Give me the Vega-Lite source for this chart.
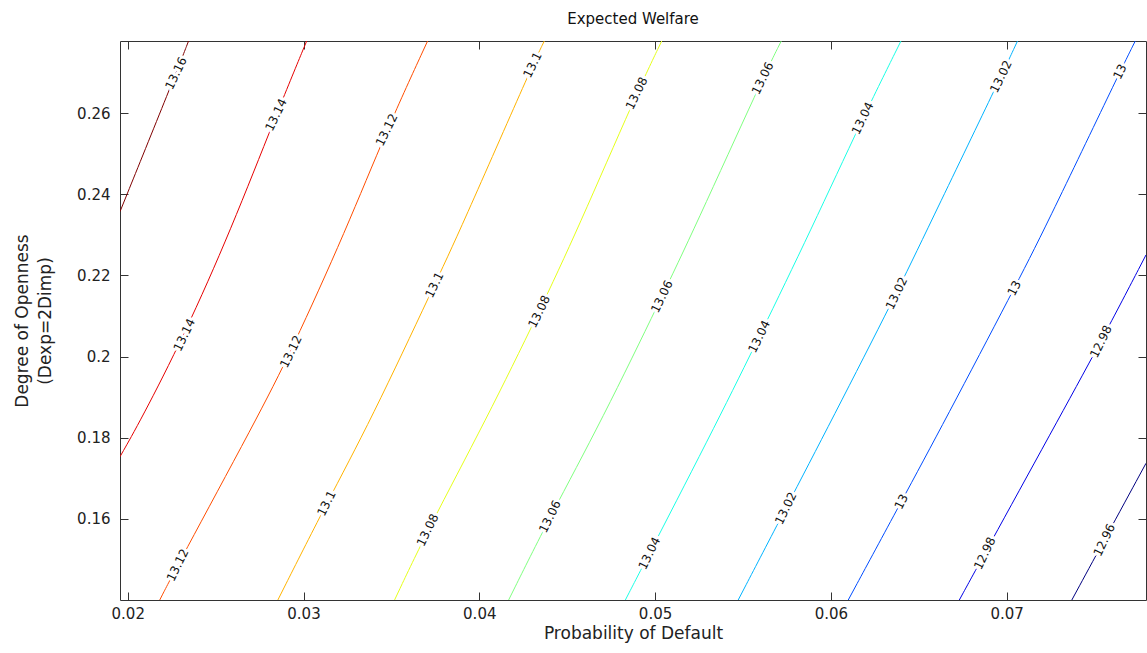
{
  "$schema": "https://vega.github.io/schema/vega-lite/v6.json",
  "width": 1026,
  "height": 559,
  "autosize": {"type": "none"},
  "padding": {"left": 120, "top": 41, "right": 1, "bottom": 53},
  "background": "white",
  "title": {"text": "Expected Welfare", "fontSize": 15, "fontWeight": "normal", "font": "DejaVu Sans", "color": "#111111", "offset": 14, "frame": "group", "anchor": "middle"},
  "config": {
    "view": {"stroke": "#333333", "strokeWidth": 1},
    "axis": {"grid": false, "domain": false, "tickColor": "#333333", "tickSize": -8, "labelFont": "DejaVu Sans", "labelFontSize": 15, "labelColor": "#222222", "titleFont": "DejaVu Sans", "titleFontSize": 17, "titleFontWeight": "normal", "titleColor": "#222222"}
  },
  "datasets": {
    "lines": [
      {"level": "13.16", "x": 0.01956, "y": 0.23574},
      {"level": "13.16", "x": 0.02275, "y": 0.26986},
      {"level": "13.16", "x": 0.02346, "y": 0.2778},
      {"level": "13.14", "x": 0.01956, "y": 0.17533},
      {"level": "13.14", "x": 0.02075, "y": 0.18438},
      {"level": "13.14", "x": 0.02322, "y": 0.20534},
      {"level": "13.14", "x": 0.02587, "y": 0.23122},
      {"level": "13.14", "x": 0.02844, "y": 0.25958},
      {"level": "13.14", "x": 0.03018, "y": 0.2778},
      {"level": "13.12", "x": 0.02182, "y": 0.14},
      {"level": "13.12", "x": 0.02284, "y": 0.14863},
      {"level": "13.12", "x": 0.0273, "y": 0.18438},
      {"level": "13.12", "x": 0.02929, "y": 0.20122},
      {"level": "13.12", "x": 0.03242, "y": 0.23122},
      {"level": "13.12", "x": 0.03473, "y": 0.25588},
      {"level": "13.12", "x": 0.03706, "y": 0.2778},
      {"level": "13.1", "x": 0.02854, "y": 0.14},
      {"level": "13.1", "x": 0.03131, "y": 0.16384},
      {"level": "13.1", "x": 0.03384, "y": 0.18438},
      {"level": "13.1", "x": 0.03745, "y": 0.21766},
      {"level": "13.1", "x": 0.03892, "y": 0.23122},
      {"level": "13.1", "x": 0.04303, "y": 0.2719},
      {"level": "13.1", "x": 0.0437, "y": 0.2778},
      {"level": "13.08", "x": 0.03518, "y": 0.14},
      {"level": "13.08", "x": 0.03706, "y": 0.15726},
      {"level": "13.08", "x": 0.04038, "y": 0.18438},
      {"level": "13.08", "x": 0.04341, "y": 0.21108},
      {"level": "13.08", "x": 0.04558, "y": 0.23122},
      {"level": "13.08", "x": 0.04895, "y": 0.26493},
      {"level": "13.08", "x": 0.05038, "y": 0.2778},
      {"level": "13.06", "x": 0.04167, "y": 0.14},
      {"level": "13.06", "x": 0.04402, "y": 0.16054},
      {"level": "13.06", "x": 0.04698, "y": 0.18438},
      {"level": "13.06", "x": 0.05039, "y": 0.21478},
      {"level": "13.06", "x": 0.0522, "y": 0.23122},
      {"level": "13.06", "x": 0.05612, "y": 0.26862},
      {"level": "13.06", "x": 0.05718, "y": 0.2778},
      {"level": "13.04", "x": 0.04831, "y": 0.14},
      {"level": "13.04", "x": 0.04968, "y": 0.15151},
      {"level": "13.04", "x": 0.05359, "y": 0.18438},
      {"level": "13.04", "x": 0.05593, "y": 0.20492},
      {"level": "13.04", "x": 0.05887, "y": 0.23122},
      {"level": "13.04", "x": 0.06181, "y": 0.25876},
      {"level": "13.04", "x": 0.06399, "y": 0.2778},
      {"level": "13.02", "x": 0.05473, "y": 0.14},
      {"level": "13.02", "x": 0.05744, "y": 0.16261},
      {"level": "13.02", "x": 0.06005, "y": 0.18438},
      {"level": "13.02", "x": 0.06374, "y": 0.21562},
      {"level": "13.02", "x": 0.06547, "y": 0.23122},
      {"level": "13.02", "x": 0.06968, "y": 0.26902},
      {"level": "13.02", "x": 0.07062, "y": 0.2778},
      {"level": "13", "x": 0.06099, "y": 0.14},
      {"level": "13", "x": 0.06401, "y": 0.16424},
      {"level": "13", "x": 0.06651, "y": 0.18438},
      {"level": "13", "x": 0.07044, "y": 0.21685},
      {"level": "13", "x": 0.07214, "y": 0.23122},
      {"level": "13", "x": 0.07645, "y": 0.27025},
      {"level": "13", "x": 0.07732, "y": 0.2778},
      {"level": "12.98", "x": 0.06731, "y": 0.14},
      {"level": "12.98", "x": 0.06876, "y": 0.15151},
      {"level": "12.98", "x": 0.07261, "y": 0.18191},
      {"level": "12.98", "x": 0.07537, "y": 0.20368},
      {"level": "12.98", "x": 0.07793, "y": 0.22506},
      {"level": "12.96", "x": 0.07371, "y": 0.14},
      {"level": "12.96", "x": 0.07556, "y": 0.15479},
      {"level": "12.96", "x": 0.07793, "y": 0.1737}
    ],
    "labels": [
      {"label": "13.16", "x": 0.02275, "y": 0.26986},
      {"label": "13.14", "x": 0.02844, "y": 0.25958},
      {"label": "13.14", "x": 0.02322, "y": 0.20534},
      {"label": "13.12", "x": 0.03473, "y": 0.25588},
      {"label": "13.12", "x": 0.02929, "y": 0.20122},
      {"label": "13.12", "x": 0.02284, "y": 0.14863},
      {"label": "13.1", "x": 0.04303, "y": 0.2719},
      {"label": "13.1", "x": 0.03745, "y": 0.21766},
      {"label": "13.1", "x": 0.03131, "y": 0.16384},
      {"label": "13.08", "x": 0.04895, "y": 0.26493},
      {"label": "13.08", "x": 0.04341, "y": 0.21108},
      {"label": "13.08", "x": 0.03706, "y": 0.15726},
      {"label": "13.06", "x": 0.05612, "y": 0.26862},
      {"label": "13.06", "x": 0.05039, "y": 0.21478},
      {"label": "13.06", "x": 0.04402, "y": 0.16054},
      {"label": "13.04", "x": 0.06181, "y": 0.25876},
      {"label": "13.04", "x": 0.05593, "y": 0.20492},
      {"label": "13.04", "x": 0.04968, "y": 0.15151},
      {"label": "13.02", "x": 0.06968, "y": 0.26902},
      {"label": "13.02", "x": 0.06374, "y": 0.21562},
      {"label": "13.02", "x": 0.05744, "y": 0.16261},
      {"label": "13", "x": 0.07645, "y": 0.27025},
      {"label": "13", "x": 0.07044, "y": 0.21685},
      {"label": "13", "x": 0.06401, "y": 0.16424},
      {"label": "12.98", "x": 0.07537, "y": 0.20368},
      {"label": "12.98", "x": 0.06876, "y": 0.15151},
      {"label": "12.96", "x": 0.07556, "y": 0.15479}
    ]
  },
  "layer": [
    {
      "data": {"name": "lines"},
      "mark": {"type": "line", "strokeWidth": 1, "clip": true, "interpolate": "basis"},
      "encoding": {
        "x": {"field": "x", "type": "quantitative", "scale": {"domain": [0.01956, 0.07793], "nice": false, "zero": false},
              "axis": {"values": [0.02, 0.03, 0.04, 0.05, 0.06, 0.07], "format": "~g", "title": "Probability of Default", "labelPadding": 14, "titlePadding": 4}},
        "y": {"field": "y", "type": "quantitative", "scale": {"domain": [0.14, 0.2778], "nice": false, "zero": false},
              "axis": {"values": [0.16, 0.18, 0.2, 0.22, 0.24, 0.26], "format": "~g", "title": ["Degree of Openness", "(Dexp=2Dimp)"], "titleLineHeight": 23, "labelPadding": 18, "titlePadding": 22}},
        "color": {"field": "level", "type": "nominal", "legend": null,
                  "scale": {"domain": ["12.96", "12.98", "13", "13.02", "13.04", "13.06", "13.08", "13.1", "13.12", "13.14", "13.16"],
                            "range": ["#000080", "#0000e6", "#004cff", "#00b3ff", "#1affe6", "#80ff80", "#e6ff1a", "#ffb300", "#ff4d00", "#e60000", "#800000"]}},
        "order": {"field": "y", "type": "quantitative"}
      }
    },
    {
      "data": {"name": "labels"},
      "mark": {"type": "text", "angle": 296, "font": "DejaVu Sans", "fontSize": 12, "color": "white", "stroke": "white", "strokeWidth": 6, "strokeJoin": "round", "align": "center", "baseline": "middle"},
      "encoding": {
        "x": {"field": "x", "type": "quantitative", "axis": {"orient": "top", "values": [0.02, 0.03, 0.04, 0.05, 0.06, 0.07], "labels": false, "title": null}},
        "y": {"field": "y", "type": "quantitative", "axis": {"orient": "right", "values": [0.16, 0.18, 0.2, 0.22, 0.24, 0.26], "labels": false, "title": null}},
        "text": {"field": "label", "type": "nominal"}
      }
    },
    {
      "data": {"name": "labels"},
      "mark": {"type": "text", "angle": 296, "font": "DejaVu Sans", "fontSize": 12, "color": "#111111", "align": "center", "baseline": "middle"},
      "encoding": {
        "x": {"field": "x", "type": "quantitative", "axis": null},
        "y": {"field": "y", "type": "quantitative", "axis": null},
        "text": {"field": "label", "type": "nominal"}
      }
    }
  ],
  "resolve": {"axis": {"x": "independent", "y": "independent"}}
}
